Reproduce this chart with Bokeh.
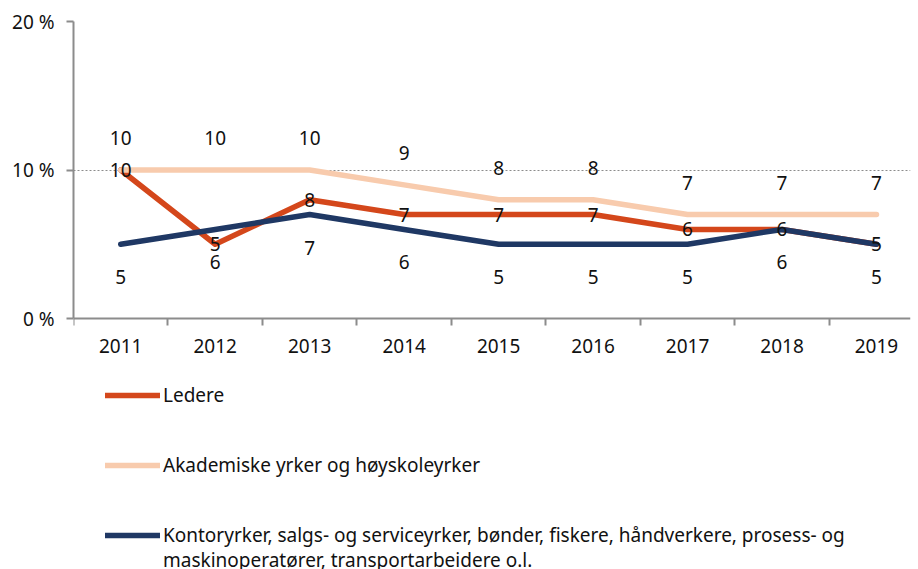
from bokeh.plotting import figure
from bokeh.models import Range1d, FixedTicker, Legend, LegendItem, ColumnDataSource
from bokeh.core.properties import value
from bokeh.embed import file_html
from bokeh.resources import INLINE

years = ["2011", "2012", "2013", "2014", "2015", "2016", "2017", "2018", "2019"]
ledere = [10, 5, 8, 7, 7, 7, 6, 6, 5]
akademiske = [10, 10, 10, 9, 8, 8, 7, 7, 7]
kontor = [5, 6, 7, 6, 5, 5, 5, 6, 5]
series_names = [
    "Ledere",
    "Akademiske yrker og høyskoleyrker",
    "Kontoryrker, salgs- og serviceyrker, bønder, fiskere, håndverkere, prosess- og",
]
series_name_cont = "maskinoperatører, transportarbeidere o.l."
series_colors = ["#D4471B", "#F8CBAD", "#1F3864"]
y_ticks = [0, 10, 20]
y_tick_labels = ["0 %", "10 %", "20 %"]

FONT = "Noto Sans"
xs = list(range(len(years)))

# frame covers the whole lower area so the legend (drawn below the zero line) is not clipped;
# the x axis is pinned at y = 0 with fixed_location
p = figure(width=918, height=569, output_backend="svg", toolbar_location=None,
           x_range=Range1d(-0.5, 8.36), y_range=Range1d(-16.9, 20),
           min_border_left=73, min_border_right=8, min_border_top=21, min_border_bottom=0)
p.outline_line_color = None
p.background_fill_color = "white"
p.border_fill_color = "white"

axis_color = "#8C8C8C"
p.xaxis.fixed_location = 0
p.xaxis.ticker = FixedTicker(ticks=xs, minor_ticks=[i - 0.5 for i in range(len(years) + 1)])
p.xaxis.major_label_overrides = {i: y for i, y in enumerate(years)}
p.xaxis.major_tick_out = 0
p.xaxis.major_tick_in = 0
p.xaxis.minor_tick_out = 7
p.xaxis.minor_tick_in = 0
p.xaxis.major_label_standoff = 13
p.yaxis.ticker = FixedTicker(ticks=y_ticks, minor_ticks=[])
p.yaxis.bounds = (0, 20)
p.yaxis.major_label_overrides = {t: l for t, l in zip(y_ticks, y_tick_labels)}
p.yaxis.major_tick_out = 7
p.yaxis.major_tick_in = 0
p.yaxis.major_label_standoff = 12
for ax in (p.xaxis, p.yaxis):
    ax.axis_line_color = axis_color
    ax.axis_line_width = 2
    ax.major_tick_line_color = axis_color
    ax.major_tick_line_width = 2
    ax.minor_tick_line_color = axis_color
    ax.minor_tick_line_width = 2
    ax.major_label_text_font = FONT
    ax.major_label_text_font_size = "19px"
    ax.major_label_text_color = "#111111"

p.xgrid.visible = False
p.ygrid.ticker = FixedTicker(ticks=[t for t in y_ticks if t > 0])
p.ygrid.grid_line_color = "#8C8C8C"
p.ygrid.grid_line_dash = "2 2"
p.ygrid.grid_line_width = 1.2

renderers = []
for vals, col in zip([ledere, akademiske, kontor], series_colors):
    src = ColumnDataSource(dict(x=xs, y=vals))
    r = p.line("x", "y", source=src, line_color=col, line_width=5.5, line_cap="round", line_join="round")
    renderers.append(r)

for vals, off in zip([ledere, akademiske, kontor], [0, -32, 33]):
    src = ColumnDataSource(dict(x=xs, y=vals, t=[str(v) for v in vals]))
    p.text("x", "y", text="t", source=src, y_offset=off, text_align="center", text_baseline="middle",
           text_font=value(FONT), text_font_size="19px", text_color="#111111")

legend_style = dict(orientation="vertical", padding=0, margin=0, spacing=40,
                    glyph_width=55, glyph_height=30, label_height=30, label_standoff=3,
                    label_text_font=FONT, label_text_font_size="19px", label_text_color="#111111",
                    label_text_baseline="middle",
                    border_line_color=None, background_fill_alpha=0)
legend = Legend(items=[LegendItem(label=n, renderers=[r]) for n, r in zip(series_names, renderers)],
                location=(32, 19), **legend_style)
p.add_layout(legend, "center")
legend2 = Legend(items=[LegendItem(label=series_name_cont, renderers=[])],
                 location=(32, -6), **legend_style)
p.add_layout(legend2, "center")

open("out.html", "w").write(file_html(p, INLINE))
